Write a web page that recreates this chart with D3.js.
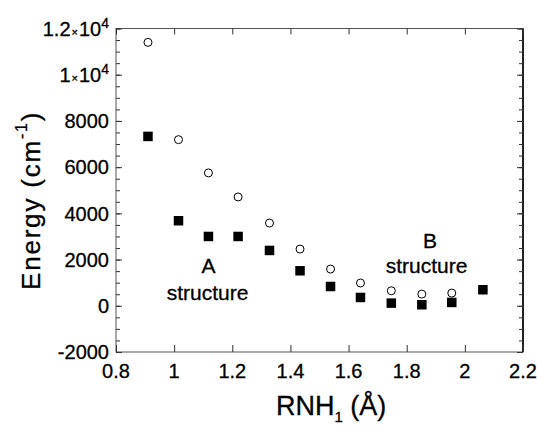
<!DOCTYPE html>
<html>
<head>
<meta charset="utf-8">
<script src="https://cdn.jsdelivr.net/npm/d3@7"></script>
<style>
  body { margin: 0; background: #fff; }
  text { font-family: "Liberation Sans", Arial, Helvetica, sans-serif; fill: #000; stroke: #000; stroke-width: 0.3px; }
</style>
</head>
<body>
<svg id="chart" width="537" height="426"></svg>
<script>
// RNH1 distances (Angstrom) and the two energy series (cm-1)
var rnh = [0.91, 1.015, 1.118, 1.22, 1.328, 1.433, 1.538, 1.641, 1.747, 1.852, 1.955, 2.062];
var openEnergy = [11400, 7190, 5750, 4710, 3580, 2455, 1590, 985, 650, 505, 550, 690];
var filledEnergy = [7330, 3680, 3000, 3000, 2395, 1515, 835, 360, 115, 45, 145, 695];

var xTicks = [0.8, 1, 1.2, 1.4, 1.6, 1.8, 2, 2.2];
var yTicks = [-2000, 0, 2000, 4000, 6000, 8000, 10000, 12000];
var yMinorTicks = d3.range(-2000, 12001, 500);

var notes = [
  {text: "A", x: 1.118, y: 1430},
  {text: "structure", x: 1.115, y: 260},
  {text: "B", x: 1.88, y: 2510},
  {text: "structure", x: 1.868, y: 1430}
];

var svg = d3.select('#chart');

var plotLeft = 116, plotRight = 523, plotTop = 28.5, plotBottom = 352;

var x = d3.scaleLinear().domain([0.8, 2.2]).range([plotLeft, plotRight]);
var y = d3.scaleLinear().domain([-2000, 12000]).range([plotBottom, plotTop]);

// frame
svg.append('rect')
  .attr('x', plotLeft)
  .attr('y', plotTop)
  .attr('width', plotRight - plotLeft)
  .attr('height', plotBottom - plotTop)
  .attr('fill', 'none')
  .attr('stroke', '#555')
  .attr('stroke-width', 1);
svg.append('line')
  .attr('x1', plotRight).attr('x2', plotRight)
  .attr('y1', plotTop).attr('y2', plotBottom)
  .attr('stroke', '#000')
  .attr('stroke-width', 1.6);

var styleAxis = function(g) {
  g.select('.domain').remove();
  g.selectAll('.tick line').attr('stroke', '#333').attr('stroke-width', 1);
  g.selectAll('.tick text').remove();
};

// x ticks, inward on bottom and top
svg.append('g')
  .attr('transform', 'translate(0,' + plotBottom + ')')
  .call(d3.axisBottom(x).tickValues(xTicks).tickSize(-7).tickFormat(''))
  .call(styleAxis);
svg.append('g')
  .attr('transform', 'translate(0,' + plotTop + ')')
  .call(d3.axisTop(x).tickValues(xTicks).tickSize(-6).tickFormat(''))
  .call(styleAxis);

// y ticks, minor then major, inward on both sides
svg.append('g')
  .attr('transform', 'translate(' + plotLeft + ',0)')
  .call(d3.axisLeft(y).tickValues(yMinorTicks).tickSize(-4).tickFormat(''))
  .call(styleAxis);
svg.append('g')
  .attr('transform', 'translate(' + plotLeft + ',0)')
  .call(d3.axisLeft(y).tickValues(yTicks).tickSize(-6).tickFormat(''))
  .call(styleAxis);
svg.append('g')
  .attr('transform', 'translate(' + plotRight + ',0)')
  .call(d3.axisRight(y).tickValues(yMinorTicks).tickSize(-4).tickFormat(''))
  .call(styleAxis);
svg.append('g')
  .attr('transform', 'translate(' + plotRight + ',0)')
  .call(d3.axisRight(y).tickValues(yTicks).tickSize(-6).tickFormat(''))
  .call(styleAxis);

// x tick labels
svg.selectAll('.x-label')
  .data(xTicks)
  .enter()
  .append('text')
  .attr('class', 'x-label')
  .attr('x', function(d) { return x(d); })
  .attr('y', 377.5)
  .attr('text-anchor', 'middle')
  .attr('font-size', 20)
  .text(function(d) { return d; });

// y tick labels, the top two as a x 10^4
var yLabels = svg.selectAll('.y-label')
  .data(yTicks)
  .enter()
  .append('text')
  .attr('class', 'y-label')
  .attr('x', 109)
  .attr('y', function(d) { return y(d); })
  .attr('dy', '0.36em')
  .attr('text-anchor', 'end')
  .attr('font-size', 20);

yLabels.each(function(d) {
  var t = d3.select(this);
  if (d < 10000) {
    t.text(d);
    return;
  }
  t.append('tspan').text(d / 10000);
  t.append('tspan').attr('font-size', 11).attr('dx', 1).text('×');
  t.append('tspan').attr('dx', 1).text('10');
  t.append('tspan').attr('font-size', 14).attr('dy', -8).text('4');
});

// open circles first, filled squares over them
svg.selectAll('.open')
  .data(rnh)
  .enter()
  .append('circle')
  .attr('class', 'open')
  .attr('cx', function(d) { return x(d); })
  .attr('cy', function(d, i) { return y(openEnergy[i]); })
  .attr('r', 4)
  .attr('fill', '#fff')
  .attr('stroke', '#000')
  .attr('stroke-width', 1);

var sq = 9.5;
svg.selectAll('.filled')
  .data(rnh)
  .enter()
  .append('rect')
  .attr('class', 'filled')
  .attr('x', function(d) { return x(d) - sq / 2; })
  .attr('y', function(d, i) { return y(filledEnergy[i]) - sq / 2; })
  .attr('width', sq)
  .attr('height', sq)
  .attr('fill', '#000');

// structure annotations
svg.selectAll('.note')
  .data(notes)
  .enter()
  .append('text')
  .attr('class', 'note')
  .attr('x', function(d) { return x(d.x); })
  .attr('y', function(d) { return y(d.y); })
  .attr('text-anchor', 'middle')
  .attr('font-size', 21)
  .text(function(d) { return d.text; });

// axis titles
var xTitle = svg.append('text')
  .attr('x', 276)
  .attr('y', 415)
  .attr('font-size', 27);
xTitle.append('tspan').text('RNH');
xTitle.append('tspan').attr('font-size', 15).attr('dy', 7).text('1');
xTitle.append('tspan').attr('dy', -7).text(' (Å)');

var yTitle = svg.append('text')
  .attr('transform', 'translate(40,290) rotate(-90)')
  .attr('font-size', 26)
  .attr('letter-spacing', 1.8);
yTitle.append('tspan').text('Energy (cm');
yTitle.append('tspan').attr('font-size', 16).attr('dy', -13).text('-1');
yTitle.append('tspan').attr('dy', 13).text(')');
</script>
</body>
</html>
